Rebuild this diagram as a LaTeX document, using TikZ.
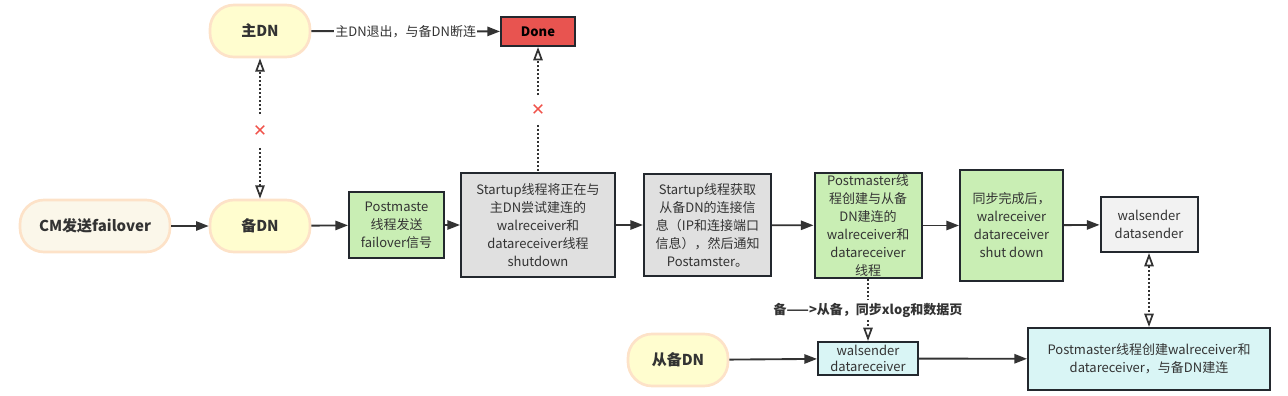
\documentclass[tikz,border=0pt]{standalone}
\usepackage{fontspec}
\setmainfont{Noto Sans CJK SC}
\newfontfamily\symfont{DejaVu Sans}
\usetikzlibrary{arrows.meta,positioning}
\definecolor{txt}{HTML}{333333}
\definecolor{pillline}{HTML}{FDE2C8}
\definecolor{pillfill}{HTML}{FFFDCF}
\definecolor{creamfill}{HTML}{FBF7EA}
\definecolor{boxline}{HTML}{23282E}
\definecolor{donefill}{HTML}{E85450}
\definecolor{greenfill}{HTML}{C9EEB4}
\definecolor{grayfill}{HTML}{E0E0E0}
\definecolor{lightfill}{HTML}{F2F2F2}
\definecolor{cyanfill}{HTML}{D9F5F5}
\definecolor{crossc}{HTML}{F0524A}

\begin{document}
\begin{tikzpicture}[x=0.75pt,y=-0.75pt,
  every node/.style={text=txt,font=\fontsize{9.75}{13.5}\selectfont},
  pill/.style={draw=pillline,line width=2pt,fill=pillfill,rounded corners=18pt,minimum width=75pt,minimum height=39pt,font=\fontsize{11.25}{13}\selectfont\bfseries},
  box/.style={draw=boxline,line width=1.5pt,align=center,inner sep=1pt},
  flow/.style={draw=txt,line width=1.4pt,-{Triangle[length=9.5pt,width=7pt]}},
  dotline/.style={draw=txt,line width=1.5pt,dash pattern=on 1.5pt off 1.5pt},
  link/.style={dotline,-{Triangle[open,length=10pt,width=7pt,line width=1.3pt]}},
  bilink/.style={dotline,{Triangle[open,length=10pt,width=7pt,line width=1.3pt]}-{Triangle[open,length=10pt,width=7pt,line width=1.3pt]}},
  cross/.style={text=crossc,font=\symfont\fontsize{12.5}{12.5}\selectfont,inner sep=0pt}]
  \useasboundingbox (0,0) rectangle (1288,396);
  % top row
  \node[pill] (zhuDN) at (260,31) {主DN};
  \node[box,fill=donefill,minimum width=55.5pt,minimum height=21.75pt,text=black,font=\fontsize{9.75}{12}\selectfont\bfseries] (done) at (538,31.5) {Done};
  \draw[flow] (zhuDN) -- node[fill=white,inner sep=1pt] {主DN退出，与备DN断连} (done);
  % main row
  \node[pill,fill=creamfill,minimum width=112.5pt] (cm) at (95,226) {CM发送failover};
  \node[pill] (beiDN) at (260,226) {备DN};
  \node[box,fill=greenfill,minimum width=71.25pt,minimum height=49.5pt] (pmSend) at (396.5,225) {Postmaste\\线程发送\\failover信号};
  \node[box,fill=grayfill,minimum width=115.5pt,minimum height=78pt] (stopRecv) at (538,225) {Startup线程将正在与\\主DN尝试建连的\\walreceiver和\\datareceiver线程\\shutdown};
  \node[box,fill=grayfill,minimum width=95.25pt,minimum height=76.5pt] (getInfo) at (707.5,225) {Startup线程获取\\从备DN的连接信\\息（IP和连接端口\\信息），然后通知\\Postamster。};
  \node[box,fill=greenfill,minimum width=80.25pt,minimum height=75.75pt] (pmCreate) at (868,225.5) {Postmaster线\\程创建与从备\\DN建连的\\walreceiver和\\datareceiver\\线程};
  \node[box,fill=greenfill,minimum width=77.25pt,minimum height=83.25pt] (syncDone) at (1011.5,225.5) {同步完成后，\\walreceiver\\datareceiver\\shut down};
  \node[box,fill=lightfill,minimum width=72.75pt,minimum height=41.25pt] (walSender) at (1149,224.5) {walsender\\datasender};
  \draw[flow] (cm) -- (beiDN);
  \draw[flow] (beiDN) -- (pmSend);
  \draw[flow] (pmSend) -- (stopRecv);
  \draw[flow] (stopRecv) -- (getInfo);
  \draw[flow] (getInfo) -- (pmCreate);
  \draw[flow] (pmCreate) -- (syncDone);
  \draw[flow] (syncDone) -- (walSender);
  % broken links
  \node[cross,minimum height=25pt] (crossA) at (260,131) {✕};
  \draw[link] (crossA) -- (zhuDN);
  \draw[link] (crossA) -- (beiDN);
  \node[cross,minimum height=22pt] (crossB) at (538,110) {✕};
  \draw[link] (crossB) -- (done);
  \draw[dotline] (crossB) -- (stopRecv);
  % bottom row
  \node[pill] (congDN) at (678,360) {从备DN};
  \node[box,fill=cyanfill,minimum width=75pt,minimum height=24.75pt,font=\fontsize{9.75}{12}\selectfont] (walRecv) at (868,358.5) {walsender\\datareceiver};
  \node[box,fill=cyanfill,minimum width=181.5pt,minimum height=46.5pt] (pmConnect) at (1149,359) {Postmaster线程创建walreceiver和\\datareceiver，与备DN建连};
  \node[font=\fontsize{9.75}{12}\selectfont\bfseries,inner sep=2pt] (syncLabel) at (868,310) {备——>从备，同步xlog和数据页};
  \draw[flow] (congDN) -- (walRecv);
  \draw[flow] (walRecv) -- (pmConnect);
  \draw[dotline] (pmCreate) -- (syncLabel);
  \draw[link] (syncLabel) -- (walRecv);
  \draw[bilink] (walSender) -- (pmConnect);
\end{tikzpicture}
\end{document}
